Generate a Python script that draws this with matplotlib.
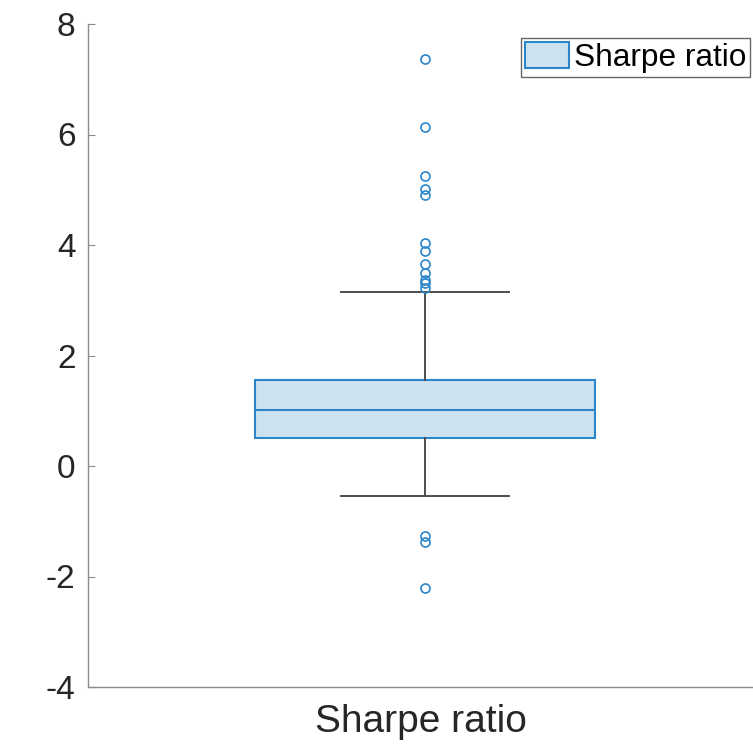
import matplotlib.pyplot as plt

plt.rcParams['font.family'] = ['Liberation Sans', 'DejaVu Sans']
plt.rcParams['axes.unicode_minus'] = False

label = "Sharpe ratio"
q1, med, q3 = 0.50, 1.01, 1.56
whisk_lo, whisk_hi = -0.54, 3.15
outliers = [7.36, 6.14, 5.24, 5.01, 4.90, 4.03, 3.89, 3.66, 3.49, 3.37,
            3.31, 3.23, -1.26, -1.37, -2.21]

stats = [{
    "label": label,
    "q1": q1, "med": med, "q3": q3,
    "whislo": whisk_lo, "whishi": whisk_hi,
    "fliers": outliers,
}]

blue = "#2b86c9"
face = "#cce2f1"
gray = "#4d4d4d"

fig = plt.figure(figsize=(7.53, 7.47), dpi=100)
ax = fig.add_axes([88 / 753, 1 - 687 / 747, 665 / 753, 663 / 747])

ax.bxp(stats, positions=[1], widths=0.51, capwidths=[0.254],
       patch_artist=True, showfliers=True,
       boxprops=dict(facecolor=face, edgecolor=blue, linewidth=1.5),
       medianprops=dict(color=blue, linewidth=1.5),
       whiskerprops=dict(color=gray, linewidth=1.4),
       capprops=dict(color=gray, linewidth=1.4),
       flierprops=dict(marker="o", markerfacecolor="none",
                       markeredgecolor=blue, markersize=6.5,
                       markeredgewidth=1.2))

ax.set_xlim(1 - 337 / 665, 1 + 328 / 665)
ax.set_ylim(-4, 8)
ax.set_yticks([-4, -2, 0, 2, 4, 6, 8])
ax.set_xticks([])
ax.set_xlabel(label, fontsize=28, color="#262626", labelpad=12)

for s in ["top", "right"]:
    ax.spines[s].set_visible(False)
for s in ["left", "bottom"]:
    ax.spines[s].set_color("#8c8c8c")
    ax.spines[s].set_linewidth(1.0)
ax.tick_params(axis="y", direction="in", length=5, color="#8c8c8c",
               labelsize=24, labelcolor="#262626", pad=9)

handle = plt.Rectangle((0, 0), 1, 1, facecolor=face, edgecolor=blue,
                       linewidth=1.5)
leg = ax.legend([handle], [label], loc="upper right",
                bbox_to_anchor=(1.0, 1 - 11 / 663), fontsize=22.8,
                fancybox=False, framealpha=1, edgecolor="#666666",
                handlelength=1.4, handleheight=0.9, handletextpad=0.15,
                borderpad=0.12, borderaxespad=0.1)
leg.get_frame().set_linewidth(1.0)

fig.savefig("out.png", dpi=100)
